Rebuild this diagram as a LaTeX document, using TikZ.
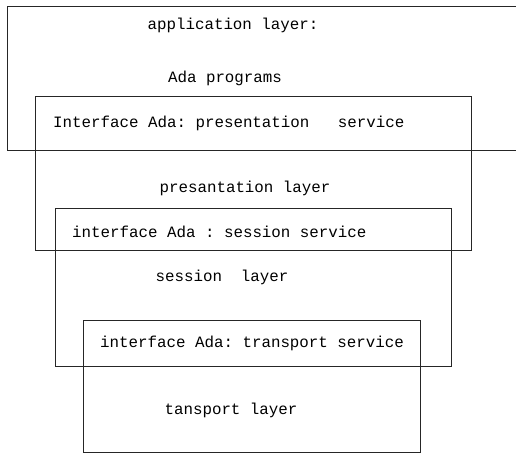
\documentclass[tikz,border=0pt]{standalone}
\usepackage{fontspec}
\setmonofont{Liberation Mono}
\usepackage{tikz}
\usetikzlibrary{positioning}

\tikzset{
  layerbox/.style={draw=black!85, line width=0.6pt},
  layertext/.style={font=\ttfamily\fontsize{15}{18}\selectfont, inner sep=0pt}
}

\begin{document}
\begin{tikzpicture}
  \useasboundingbox (0, 0) rectangle (17.2, 15.167);

  % Application layer (open to the right)
  \coordinate (appNE) at (17.2, 14.967);
  \coordinate (appSE) at (17.2, 10.167);
  \draw[layerbox] (appNE) -- (0.233, 14.967) -- (0.233, 10.167) -- (appSE);
  \node[layertext] (apptitle) at (7.767, 14.333) {application layer:};
  \node[layertext] (appprog) at (7.5, 12.567) {Ada programs};

  % Presentation layer
  \draw[layerbox] (1.167, 11.967) rectangle (15.7, 6.833);
  \node[layertext, anchor=west] (presif) at (1.767, 11.067) {Interface Ada: presentation\ \ \ service};
  \node[layertext] (prestitle) at (8.167, 8.9) {presantation layer};

  % Session layer
  \draw[layerbox] (1.833, 8.233) rectangle (15.033, 2.967);
  \node[layertext, anchor=west] (sessif) at (2.4, 7.433) {interface Ada : session service};
  \node[layertext] (sesstitle) at (7.4, 5.933) {session\ \ layer};

  % Transport layer
  \draw[layerbox] (2.767, 4.5) rectangle (14.0, 0.1);
  \node[layertext, anchor=west] (transif) at (3.333, 3.733) {interface Ada: transport service};
  \node[layertext] (transtitle) at (7.7, 1.5) {tansport layer};
\end{tikzpicture}
\end{document}
